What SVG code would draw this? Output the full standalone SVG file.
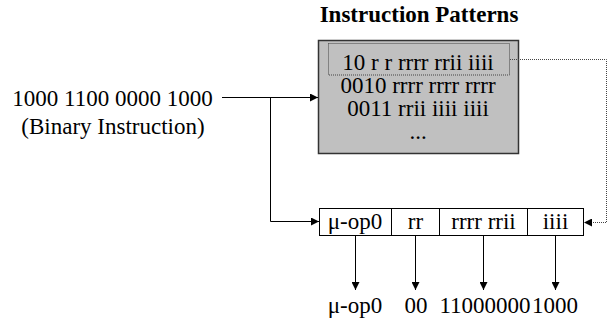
<svg xmlns="http://www.w3.org/2000/svg" width="616" height="323" viewBox="0 0 616 323">
  <style>
    text { font-family: "Liberation Serif", "Times New Roman", serif; font-size: 23px; fill: #000; }
    .title { font-weight: bold; }
    .mid { text-anchor: middle; }
    .line { fill: none; stroke: #000; stroke-width: 1; }
    .dots { fill: none; stroke: #444; stroke-width: 1; stroke-dasharray: 1 1; }
    .box { fill: #c0c0c0; stroke: #333; stroke-width: 1.5; }
    .field { fill: #fff; stroke: #000; stroke-width: 1; }
  </style>
  <defs>
    <marker id="arrow" viewBox="0 0 10 10" refX="10" refY="5" markerWidth="9" markerHeight="8" markerUnits="userSpaceOnUse" orient="auto">
      <path d="M0,0 L10,5 L0,10 Z" fill="#000"/>
    </marker>
  </defs>

  <rect width="616" height="323" fill="#fff"/>

  <!-- binary instruction input -->
  <g id="input">
    <text class="mid" x="112.5" y="106">1000 1100 0000 1000</text>
    <text class="mid" x="113" y="134">(Binary Instruction)</text>
  </g>

  <!-- pattern table -->
  <g id="patterns">
    <text class="title mid" x="419" y="22">Instruction Patterns</text>
    <rect class="box" x="318.5" y="40.5" width="200" height="113"/>
    <rect class="dots" x="328.5" y="43.5" width="181" height="31.5"/>
    <text class="mid" x="418" y="69.5">10 r r  rrrr rrii iiii</text>
    <text class="mid" x="418" y="93">0010 rrrr rrrr rrrr</text>
    <text class="mid" x="418" y="116">0011 rrii iiii iiii</text>
    <text class="mid" x="418" y="139">...</text>
  </g>

  <!-- decoded micro-op register -->
  <g id="register">
    <rect class="field" x="319.5" y="208.5" width="72" height="27"/>
    <rect class="field" x="391.5" y="208.5" width="48" height="27"/>
    <rect class="field" x="439.5" y="208.5" width="88" height="27"/>
    <rect class="field" x="527.5" y="208.5" width="56" height="27"/>
    <text class="mid" x="355" y="229">μ-op0</text>
    <text class="mid" x="415.5" y="229">rr</text>
    <text class="mid" x="483.5" y="229">rrrr rrii</text>
    <text class="mid" x="555.5" y="229">iiii</text>
  </g>

  <!-- field values -->
  <g id="values">
    <text class="mid" x="355" y="313">μ-op0</text>
    <text class="mid" x="416" y="313">00</text>
    <text class="mid" x="485" y="313">11000000</text>
    <text class="mid" x="555" y="313">1000</text>
  </g>

  <g id="connectors">
    <path class="line" d="M222,97.5 H318" marker-end="url(#arrow)"/>
    <path class="line" d="M222,97.5 H270.5" stroke-width="1.6"/>
    <path class="line" d="M270.5,97.5 V221.5 H319" marker-end="url(#arrow)"/>
    <path class="dots" d="M510,59.5 H606.5 V222.5 H584" marker-end="url(#arrow)"/>
    <path class="line" d="M355.5,235.5 V290" marker-end="url(#arrow)"/>
    <path class="line" d="M415.5,235.5 V290" marker-end="url(#arrow)"/>
    <path class="line" d="M483.5,235.5 V290" marker-end="url(#arrow)"/>
    <path class="line" d="M555.5,235.5 V290" marker-end="url(#arrow)"/>
  </g>
</svg>
